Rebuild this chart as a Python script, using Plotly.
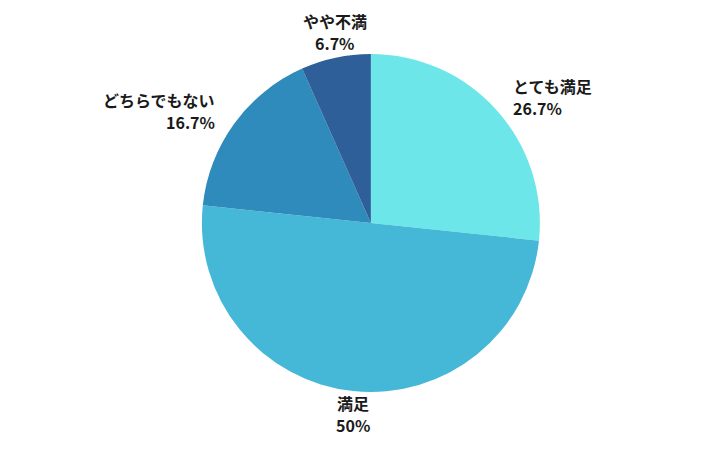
import math
import plotly.graph_objects as go

labels = ["とても満足", "満足", "どちらでもない", "やや不満"]
counts = [8, 15, 5, 2]
colors = ["#6ce6e9", "#45b8d7", "#2e8bbb", "#2e5f99"]

W, H = 720, 450
mt, mb = 46, 66
plot_h = H - mt - mb
dom_x = [0.008, 1]

total = sum(counts)
pct = []
for c in counts:
    pct.append("{:.1f}".format(c / total * 100).rstrip("0").rstrip(".") + "%")

fig = go.Figure()
fig.add_trace(go.Pie(
    labels=labels,
    values=counts,
    sort=False,
    direction="clockwise",
    rotation=0,
    marker=dict(colors=colors, line=dict(width=0)),
    textinfo="none",
    automargin=False,
    domain=dict(x=dom_x, y=[0, 1]),
    showlegend=False,
    hoverinfo="label+percent",
))

# labels outside the pie, placed along each slice's middle angle
cx = W * (dom_x[0] + dom_x[1]) / 2
cy = mt + plot_h / 2
R = min(W * (dom_x[1] - dom_x[0]), plot_h) / 2
line_gap = 22
block_h = 40
cum = 0
for lab, c, p in zip(labels, counts, pct):
    mid = (cum + c / 2) / total * 2 * math.pi
    cum += c
    ux, uy = math.sin(mid), -math.cos(mid)
    d = R + 26 * abs(ux)
    px, py = cx + ux * d, cy + uy * d
    if ux > 0.5:
        xa, bcy = "left", py
    elif ux < -0.5:
        xa, bcy = "right", py
    else:
        xa = "center"
        bcy = py - block_h / 2 if uy < 0 else py + block_h / 2
    for txt, yy in [(lab, bcy - line_gap / 2), (p, bcy + line_gap / 2)]:
        fig.add_annotation(
            x=px / W, y=(mt + plot_h - yy) / plot_h,
            xref="paper", yref="paper",
            text="<b>" + txt + "</b>",
            showarrow=False, xanchor=xa, yanchor="middle",
            font=dict(family="Noto Sans CJK JP", size=16, color="#1a1a1a"),
        )

fig.update_layout(
    width=W,
    height=H,
    margin=dict(l=0, r=0, t=mt, b=mb),
    paper_bgcolor="white",
    plot_bgcolor="white",
)
fig.write_html("out.html")
